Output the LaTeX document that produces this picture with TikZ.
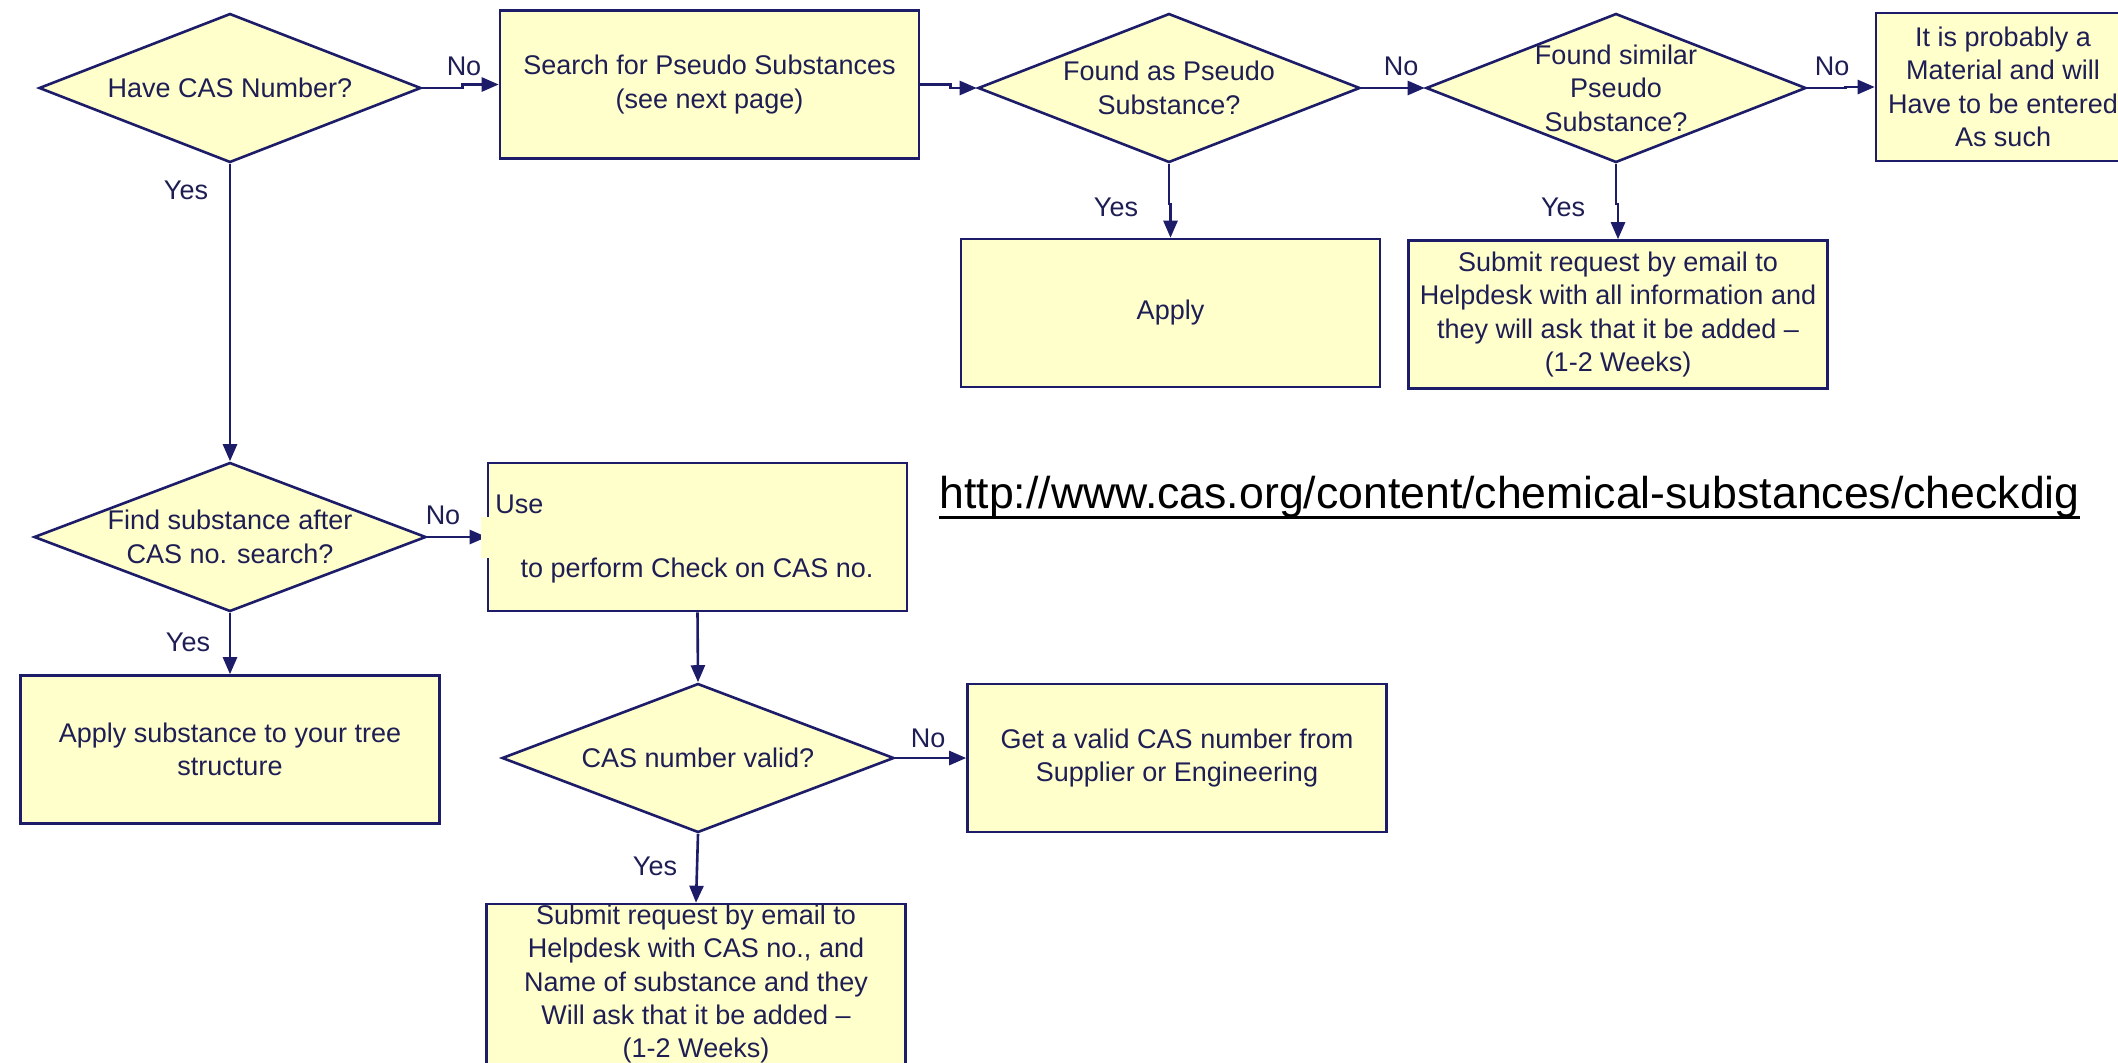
\documentclass[tikz,border=0pt]{standalone}
\usepackage{fontspec}
\setmainfont{Liberation Sans}
\usetikzlibrary{shapes.geometric, arrows.meta}
\tikzstyle{chart} = [x = .5pt, y = -.5pt]
\definecolor{lineColor}{RGB}{28,28,105}
\definecolor{boxColor}{RGB}{255,255,204}
\definecolor{textColor}{RGB}{30,30,85}
\tikzstyle{flowText} = [text=textColor, align=center, inner sep=0pt, font=\fontsize{13.5}{16.7}\selectfont]
\tikzstyle{boxStyle} = [draw=lineColor, fill=boxColor, line width=1.3pt, minimum width=209.5pt, minimum height=74pt, flowText]
\tikzstyle{decisionStyle} = [diamond, draw=lineColor, fill=boxColor, line width=1.3pt, inner sep=0pt, minimum height=74.5pt]
\tikzstyle{flowArrow} = [draw=lineColor, line width=1.3pt, -{Triangle[length=8.5pt, width=7pt]}]
\tikzstyle{linkText} = [text=black, inner sep=0pt, font=\fontsize{22.3}{26}\selectfont]
\tikzstyle{linkLine} = [draw=black, line width=1.4pt]
\newcommand{\decision}[4]{\node [decisionStyle, minimum width=#3, label={[flowText]center:#4}] (#1) at (#2) {};}
\newcommand{\answer}[3]{\node [flowText] (#1) at (#2) {#3};}

\begin{document}
\begin{tikzpicture}[chart]
  \useasboundingbox (0,0) rectangle (2118,1062);
  \clip (0,0) rectangle (2118,1062);
  \fill [white] (0,0) rectangle (2118,1062);
  % questions
  \decision{haveCas}{230,88}{191pt}{Have CAS Number?}
  \decision{foundPseudo}{1169,88}{191pt}{Found as Pseudo\\Substance?}
  \decision{foundSimilar}{1616,88}{190pt}{Found similar\\Pseudo\\Substance?}
  \decision{findSubstance}{230,537}{196pt}{Find substance after\\CAS no. search?}
  \decision{casValid}{698,758}{196pt}{CAS number valid?}
  % actions
  \node [boxStyle] (searchPseudo) at (709.5,84.5) {Search for Pseudo Substances\\(see next page)};
  \node [boxStyle] (applyPseudo) at (1170.5,313) {Apply};
  \node [boxStyle] (requestSimilar) at (1618,314.5) {Submit request by email to\\Helpdesk with all information and\\they will ask that it be added --\\(1-2 Weeks)};
  \node [boxStyle, minimum width=127pt] (enterMaterial) at (2003,87) {It is probably a\\Material and will\\Have to be entered\\As such};
  \node [boxStyle] (applyTree) at (230,749.5) {Apply substance to your tree\\structure};
  \node [boxStyle] (checkCas) at (697.5,537) {};
  \node [boxStyle] (validCas) at (1177,758) {Get a valid CAS number from\\Supplier or Engineering};
  \node [boxStyle, minimum height=80pt] (requestCas) at (696,984) {Submit request by email to\\Helpdesk with CAS no., and\\Name of substance and they\\Will ask that it be added --\\(1-2 Weeks)};
  % connectors
  \draw [flowArrow] (haveCas.east) -- +(40,0) |- (searchPseudo.west);
  \draw [flowArrow] (searchPseudo.east) -- +(30,0) |- (foundPseudo.west);
  \draw [flowArrow] (foundPseudo.east) -- (foundSimilar.west);
  \draw [flowArrow] (foundSimilar.east) -- +(38,0) |- (enterMaterial.west);
  \draw [flowArrow] (foundPseudo.south) -- +(0,40) -| (applyPseudo.north);
  \draw [flowArrow] (foundSimilar.south) -- +(0,40) -| (requestSimilar.north);
  \draw [flowArrow] (haveCas.south) -- (findSubstance.north);
  \draw [flowArrow] (findSubstance.east) -- (checkCas.west);
  \draw [flowArrow] (findSubstance.south) -- (applyTree.north);
  \draw [flowArrow] (checkCas.south) -- (casValid.north);
  \draw [flowArrow] (casValid.east) -- (validCas.west);
  \draw [flowArrow] (casValid.south) -- (requestCas.north);
  % patch over the check box
  \fill [boxColor] (481,517) rectangle (902,558);
  \node [flowText, anchor=base west] (useWord) at (495,513) {Use};
  \node [flowText, anchor=base] (checkWord) at (697,577) {to perform Check on CAS no.};
  % answers
  \answer{haveCasNo}{464,66}{No}
  \answer{haveCasYes}{186,190}{Yes}
  \answer{foundPseudoNo}{1401,66}{No}
  \answer{foundPseudoYes}{1116,207}{Yes}
  \answer{foundSimilarNo}{1832,66}{No}
  \answer{foundSimilarYes}{1563,207}{Yes}
  \answer{findSubstanceNo}{443,515}{No}
  \answer{findSubstanceYes}{188,642}{Yes}
  \answer{casValidNo}{928,738}{No}
  \answer{casValidYes}{655,866}{Yes}
  % link
  \node [linkText, anchor=base west] (casLink) at (939,508) {http://www.cas.org/content/chemical-substances/checkdig};
  \draw [linkLine] (casLink.south west) -- (casLink.south east);
\end{tikzpicture}
\end{document}
